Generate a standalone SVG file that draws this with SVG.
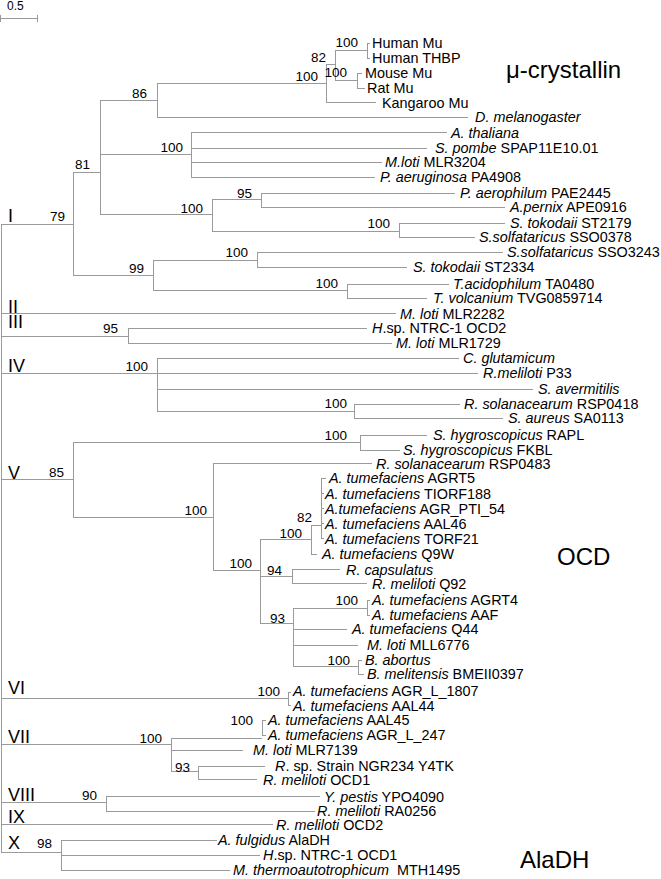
<svg xmlns="http://www.w3.org/2000/svg" width="661" height="879" viewBox="0 0 661 879">
<style>
text{font-family:"Liberation Sans",Arial,sans-serif;fill:#000}
.l{font-size:14.4px}
.b{font-size:13.5px;text-anchor:end}
.c{font-size:18px}
.g{font-size:24px}
.s{font-size:12px}
i,.i{font-style:italic}
.e{fill:none;stroke:#9a9a9a;stroke-width:1;shape-rendering:crispEdges}
</style>
<rect width="661" height="879" fill="#fff"/>
<g id="scale">
<path class="e" d="M0.5 18.5H37.5M0.5 15V22M37.5 15V22"/>
<text class="s" x="7" y="10">0.5</text>
</g>
<g id="connectors">
<path class="e" d="M1.5 224V852
M1 224.5H73 M73.5 172V275 M73 172.5H100 M100.5 100V214
M100 100.5H157 M157.5 83V117 M157 83.5H326 M326.5 64V102 M326 64.5H335 M335.5 50V80
M335 50.5H367 M367.5 43V58 M367 43.5H370 M367 58.5H370
M335 80.5H357 M357.5 73V88 M357 73.5H362 M357 88.5H365
M326 102.5H376 M157 117.5H468
M100 154.5H191 M191.5 132V177 M191 132.5H447 M191 148.5H427 M191 162.5H382 M191 177.5H375
M100 214.5H212 M212.5 199V231 M212 199.5H261 M261.5 193V207 M261 193.5H455 M261 207.5H505
M212 231.5H399 M399.5 223V237 M399 223.5H505 M399 237.5H475
M73 275.5H153 M153.5 260V290 M153 260.5H257 M257.5 252V267 M257 252.5H503 M257 267.5H407
M153 290.5H347 M347.5 284V298 M347 284.5H449 M347 298.5H427
M1 313.5H396
M1 336.5H128 M128.5 328V343 M128 328.5H367 M128 343.5H392
M1 373.5H157 M157.5 358V411 M157 358.5H459 M157 373.5H478 M157 389.5H533 M157 411.5H354 M354.5 404V418 M354 404.5H460 M354 418.5H503
M1 479.5H73 M73.5 442V517 M73 442.5H360 M360.5 435V450 M360 435.5H427 M360 450.5H400
M73 517.5H213 M213.5 463V570 M213 463.5H372 M213 570.5H260 M260.5 539V623
M260 539.5H311 M311.5 525V554 M311 525.5H321 M321.5 478V538
M321 478.5H326 M321 493.5H324 M321 508.5H324 M321 523.5H324 M321 538.5H324 M311 554.5H317
M260 576.5H292 M292.5 569V583 M292 569.5H340 M292 583.5H367
M260 623.5H293 M293.5 608V666 M293 608.5H367 M367.5 600V615 M367 600.5H370 M367 615.5H370
M293 629.5H347 M293 645.5H358 M293 666.5H358 M358.5 660V674 M358 660.5H362 M358 674.5H364
M1 698.5H288 M288.5 692V705 M288 692.5H291 M288 705.5H291
M1 744.5H171 M171.5 738V771 M171 738.5H262 M262.5 720V735 M262 720.5H266 M262 735.5H266
M171 750.5H243 M171 771.5H198 M198.5 766V779 M198 766.5H265 M198 779.5H257
M1 802.5H106 M106.5 796V811 M106 796.5H320 M106 811.5H315
M1 824.5H273
M1 852.5H61 M61.5 840V870 M61 840.5H217 M61 855.5H260 M61 870.5H230"/>
</g>
<g id="clade-labels">
<text class="c" x="8" y="222">I</text>
<text class="c" x="8" y="313">II</text>
<text class="c" x="8" y="328">III</text>
<text class="c" x="8" y="372">IV</text>
<text class="c" x="8" y="479">V</text>
<text class="c" x="8" y="694">VI</text>
<text class="c" x="8" y="743">VII</text>
<text class="c" x="8" y="801">VIII</text>
<text class="c" x="8" y="823">IX</text>
<text class="c" x="8" y="849">X</text>
</g>
<g id="group-labels">
<text class="g" x="506" y="78">μ-crystallin</text>
<text class="g" x="557" y="565">OCD</text>
<text class="g" x="520" y="868">AlaDH</text>
</g>
<g id="bootstrap">
<text class="b" x="358" y="47">100</text>
<text class="b" x="326" y="62">82</text>
<text class="b" x="347" y="77">100</text>
<text class="b" x="318" y="81">100</text>
<text class="b" x="147" y="98">86</text>
<text class="b" x="183" y="152">100</text>
<text class="b" x="90" y="169">81</text>
<text class="b" x="65" y="221">79</text>
<text class="b" x="203" y="213">100</text>
<text class="b" x="252" y="198">95</text>
<text class="b" x="390" y="228">100</text>
<text class="b" x="144" y="273">99</text>
<text class="b" x="248" y="257">100</text>
<text class="b" x="338" y="288">100</text>
<text class="b" x="118" y="333">95</text>
<text class="b" x="148" y="371">100</text>
<text class="b" x="347" y="408">100</text>
<text class="b" x="347" y="440">100</text>
<text class="b" x="64" y="477">85</text>
<text class="b" x="207" y="515">100</text>
<text class="b" x="252" y="568">100</text>
<text class="b" x="302" y="538">100</text>
<text class="b" x="312" y="522">82</text>
<text class="b" x="282" y="575">94</text>
<text class="b" x="285" y="623">93</text>
<text class="b" x="358" y="605">100</text>
<text class="b" x="350" y="665">100</text>
<text class="b" x="280" y="696">100</text>
<text class="b" x="162" y="743">100</text>
<text class="b" x="253" y="725">100</text>
<text class="b" x="190" y="772">93</text>
<text class="b" x="97" y="800">90</text>
<text class="b" x="52" y="848">98</text>
</g>
<g id="leaves" class="l">
<g id="n1"><text class="l" x="372" y="48">Human Mu</text></g>
<g id="n2"><text class="l" x="372" y="63">Human THBP</text></g>
<g id="n3"><text class="l" x="365" y="78">Mouse Mu</text></g>
<g id="n4"><text class="l" x="367" y="93">Rat Mu</text></g>
<g id="n5"><text class="l" x="382" y="108">Kangaroo Mu</text></g>
<g id="n6"><text class="l" x="475" y="122"><tspan class="i">D. melanogaster</tspan></text></g>
<g id="n7"><text class="l" x="451" y="138"><tspan class="i">A. thaliana</tspan></text></g>
<g id="n8"><text class="l" x="435" y="153"><tspan class="i">S. pombe</tspan> SPAP11E10.01</text></g>
<g id="n9"><text class="l" x="385" y="167"><tspan class="i">M.loti</tspan> MLR3204</text></g>
<g id="n10"><text class="l" x="380" y="182"><tspan class="i">P. aeruginosa</tspan> PA4908</text></g>
<g id="n11"><text class="l" x="460" y="198"><tspan class="i">P. aerophilum</tspan> PAE2445</text></g>
<g id="n12"><text class="l" x="510" y="212"><tspan class="i">A.pernix</tspan> APE0916</text></g>
<g id="n13"><text class="l" x="510" y="228"><tspan class="i">S. tokodaii</tspan> ST2179</text></g>
<g id="n14"><text class="l" x="479" y="242"><tspan class="i">S.solfataricus</tspan> SSO0378</text></g>
<g id="n15"><text class="l" x="507" y="257"><tspan class="i">S.solfataricus</tspan> SSO3243</text></g>
<g id="n16"><text class="l" x="413" y="272"><tspan class="i">S. tokodaii</tspan> ST2334</text></g>
<g id="n17"><text class="l" x="453" y="289"><tspan class="i">T.acidophilum</tspan> TA0480</text></g>
<g id="n18"><text class="l" x="433" y="303"><tspan class="i">T. volcanium</tspan> TVG0859714</text></g>
<g id="n19"><text class="l" x="400" y="319"><tspan class="i">M. loti</tspan> MLR2282</text></g>
<g id="n20"><text class="l" x="372" y="333"><tspan class="i">H</tspan>.sp. NTRC-1 OCD2</text></g>
<g id="n21"><text class="l" x="396" y="348"><tspan class="i">M. loti</tspan> MLR1729</text></g>
<g id="n22"><text class="l" x="463" y="363"><tspan class="i">C. glutamicum</tspan></text></g>
<g id="n23"><text class="l" x="483" y="378"><tspan class="i">R.meliloti</tspan> P33</text></g>
<g id="n24"><text class="l" x="538" y="394"><tspan class="i">S. avermitilis</tspan></text></g>
<g id="n25"><text class="l" x="464" y="409"><tspan class="i">R. solanacearum</tspan> RSP0418</text></g>
<g id="n26"><text class="l" x="508" y="423"><tspan class="i">S. aureus</tspan> SA0113</text></g>
<g id="n27"><text class="l" x="433" y="440"><tspan class="i">S. hygroscopicus</tspan> RAPL</text></g>
<g id="n28"><text class="l" x="403" y="455"><tspan class="i">S. hygroscopicus</tspan> FKBL</text></g>
<g id="n29"><text class="l" x="376" y="469"><tspan class="i">R. solanacearum</tspan> RSP0483</text></g>
<g id="n30"><text class="l" x="329" y="483"><tspan class="i">A. tumefaciens</tspan> AGRT5</text></g>
<g id="n31"><text class="l" x="325" y="499"><tspan class="i">A. tumefaciens</tspan> TIORF188</text></g>
<g id="n32"><text class="l" x="325" y="514"><tspan class="i">A.tumefaciens</tspan> AGR_PTI_54</text></g>
<g id="n33"><text class="l" x="325" y="529"><tspan class="i">A. tumefaciens</tspan> AAL46</text></g>
<g id="n34"><text class="l" x="325" y="544"><tspan class="i">A. tumefaciens</tspan> TORF21</text></g>
<g id="n35"><text class="l" x="322" y="559"><tspan class="i">A. tumefaciens</tspan> Q9W</text></g>
<g id="n36"><text class="l" x="346" y="575"><tspan class="i">R. capsulatus</tspan></text></g>
<g id="n37"><text class="l" x="372" y="589"><tspan class="i">R. meliloti</tspan> Q92</text></g>
<g id="n38"><text class="l" x="372" y="605"><tspan class="i">A. tumefaciens</tspan> AGRT4</text></g>
<g id="n39"><text class="l" x="372" y="620"><tspan class="i">A. tumefaciens</tspan> AAF</text></g>
<g id="n40"><text class="l" x="352" y="634"><tspan class="i">A. tumefaciens</tspan> Q44</text></g>
<g id="n41"><text class="l" x="367" y="650"><tspan class="i">M. loti</tspan> MLL6776</text></g>
<g id="n42"><text class="l" x="365" y="665"><tspan class="i">B. abortus</tspan></text></g>
<g id="n43"><text class="l" x="367" y="679"><tspan class="i">B. melitensis</tspan> BMEII0397</text></g>
<g id="n44"><text class="l" x="293" y="696"><tspan class="i">A. tumefaciens</tspan> AGR_L_1807</text></g>
<g id="n45"><text class="l" x="293" y="711"><tspan class="i">A. tumefaciens</tspan> AAL44</text></g>
<g id="n46"><text class="l" x="268" y="725"><tspan class="i">A. tumefaciens</tspan> AAL45</text></g>
<g id="n47"><text class="l" x="268" y="740"><tspan class="i">A. tumefaciens</tspan> AGR_L_247</text></g>
<g id="n48"><text class="l" x="253" y="755"><tspan class="i">M. loti</tspan> MLR7139</text></g>
<g id="n49"><text class="l" x="275" y="771"><tspan class="i">R</tspan>. sp. Strain NGR234 Y4TK</text></g>
<g id="n50"><text class="l" x="263" y="785"><tspan class="i">R. meliloti</tspan> OCD1</text></g>
<g id="n51"><text class="l" x="324" y="802"><tspan class="i">Y. pestis</tspan> YPO4090</text></g>
<g id="n52"><text class="l" x="317" y="816"><tspan class="i">R. meliloti</tspan> RA0256</text></g>
<g id="n53"><text class="l" x="276" y="830"><tspan class="i">R. meliloti</tspan> OCD2</text></g>
<g id="n54"><text class="l" x="218" y="845"><tspan class="i">A. fulgidus</tspan> AlaDH</text></g>
<g id="n55"><text class="l" x="263" y="860"><tspan class="i">H</tspan>.sp. NTRC-1 OCD1</text></g>
<g id="n56"><text class="l" x="233" y="875"><tspan class="i">M. thermoautotrophicum</tspan><tspan dx="8">MTH1495</tspan></text></g>
</g>
</svg>
